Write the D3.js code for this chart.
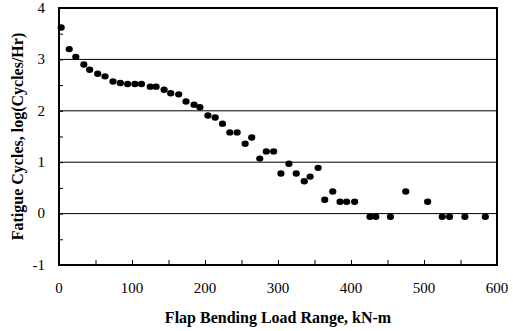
<!DOCTYPE html>
<html>
<head>
<meta charset="utf-8">
<script src="https://cdn.jsdelivr.net/npm/d3@7"></script>
<style>
  body { margin: 0; background: #fff; }
  text { font-family: "Liberation Serif", "Times New Roman", serif; }
</style>
</head>
<body>
<div id="chart"></div>
<script>
// load range (kN-m) and log(cycles/hr)
const loadRange = [3, 14, 23, 34, 42, 53, 63, 74, 84, 94, 104, 113, 125, 133, 144, 153, 164, 174,
    185, 193, 204, 214, 224, 234, 244, 255, 264, 275, 284, 294, 304, 315, 325, 336, 344, 355,
    364, 375, 385, 394, 405, 426, 434, 454, 475, 505, 525, 535, 556, 584];
const logCycles = [3.62, 3.2, 3.05, 2.9, 2.8, 2.72, 2.67, 2.57, 2.54, 2.52, 2.52, 2.52, 2.47, 2.47,
    2.41, 2.34, 2.32, 2.18, 2.12, 2.07, 1.91, 1.87, 1.75, 1.58, 1.58, 1.36, 1.48, 1.07, 1.21, 1.21,
    0.78, 0.97, 0.78, 0.63, 0.72, 0.89, 0.27, 0.43, 0.23, 0.23, 0.23, -0.06, -0.06, -0.06, 0.43,
    0.23, -0.06, -0.06, -0.06, -0.06];
const xTicks = [0, 100, 200, 300, 400, 500, 600];
const yTicks = [-1, 0, 1, 2, 3, 4];
const gridValues = [0, 1, 2, 3];

const width = 513, height = 331;
const margin = {top: 8, right: 16, bottom: 66, left: 59};
const w = width - margin.left - margin.right;
const h = height - margin.top - margin.bottom;

const svg = d3.select('#chart').append('svg')
    .attr('width', width)
    .attr('height', height);

const g = svg.append('g')
    .attr('transform', `translate(${margin.left}, ${margin.top})`);

const x = d3.scaleLinear().domain([0, 600]).range([0, w]);
const y = d3.scaleLinear().domain([-1, 4]).range([h, 0]);

// horizontal gridlines
g.selectAll('.grid')
    .data(gridValues)
    .enter().append('line')
        .attr('x1', 0).attr('x2', w)
        .attr('y1', d => y(d)).attr('y2', d => y(d))
        .attr('stroke', '#000')
        .attr('stroke-width', 1);

// inward tick marks, every 50 on x and 0.5 on y
const xAxis = d3.axisBottom(x).tickValues(d3.range(0, 601, 50)).tickSize(-5).tickFormat('');
const yAxis = d3.axisLeft(y).tickValues(d3.range(-1, 4.01, 0.5)).tickSize(-4).tickFormat('');
g.append('g').attr('transform', `translate(0, ${h})`).call(xAxis)
    .call(a => a.select('.domain').remove())
    .selectAll('line').attr('stroke-width', 1);
g.append('g').call(yAxis)
    .call(a => a.select('.domain').remove())
    .selectAll('line').attr('stroke-width', 1);

// tick labels
g.selectAll('.xlab')
    .data(xTicks)
    .enter().append('text')
        .attr('x', d => x(d))
        .attr('y', h + 28)
        .attr('text-anchor', 'middle')
        .attr('font-size', 15)
        .text(d => d);
g.selectAll('.ylab')
    .data(yTicks)
    .enter().append('text')
        .attr('x', -14)
        .attr('y', d => y(d))
        .attr('dy', '0.32em')
        .attr('text-anchor', 'end')
        .attr('font-size', 15)
        .text(d => d);

// frame
g.append('rect')
    .attr('width', w).attr('height', h)
    .attr('fill', 'none')
    .attr('stroke', '#000')
    .attr('stroke-width', 2);

// data points
g.selectAll('ellipse')
    .data(loadRange.map((v, i) => ({x: v, y: logCycles[i]})))
    .enter().append('ellipse')
        .attr('cx', d => x(d.x))
        .attr('cy', d => y(d.y))
        .attr('rx', 3.6)
        .attr('ry', 3.2)
        .attr('fill', '#000');

// axis titles
svg.append('text')
    .attr('x', margin.left + w / 2)
    .attr('y', 323)
    .attr('text-anchor', 'middle')
    .attr('font-size', 16)
    .attr('font-weight', 'bold')
    .text('Flap Bending Load Range, kN-m');
svg.append('text')
    .attr('transform', `translate(23, ${margin.top + h / 2}) rotate(-90)`)
    .attr('text-anchor', 'middle')
    .attr('font-size', 16)
    .attr('font-weight', 'bold')
    .text('Fatigue Cycles, log(Cycles/Hr)');
</script>
</body>
</html>
